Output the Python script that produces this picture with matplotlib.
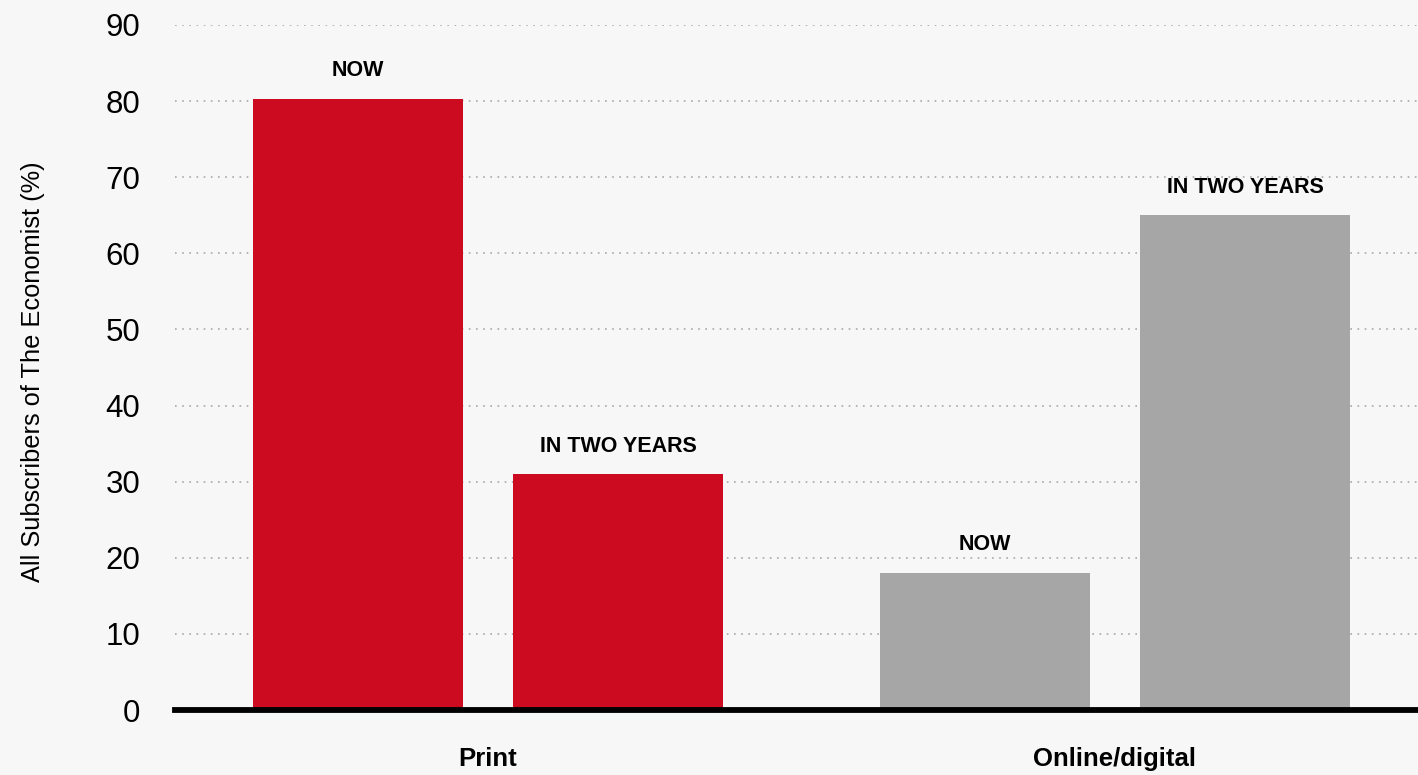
import numpy as np
import matplotlib
matplotlib.use('Agg')
import matplotlib.pyplot as plt

# --- data ---
groups = ['Print', 'Online/digital']
periods = ['NOW', 'IN TWO YEARS']
print_share = [80.3, 31.0]
online_share = [18.0, 65.0]
group_colors = ['#cc0a20', '#a6a6a6']
y_ticks = [0, 10, 20, 30, 40, 50, 60, 70, 80, 90]

font = 'Liberation Sans'

fig = plt.figure(figsize=(14.18, 7.75), dpi=100)
fig.patch.set_facecolor('#f7f7f7')
ax = fig.add_axes([175 / 1418, 65 / 775, 1 - 175 / 1418, 685 / 775])
ax.set_facecolor('none')

bar_w = 1.0
inner = 0.62
centers = np.array([0.0, 2.986])

for gi, (vals, col) in enumerate(zip([print_share, online_share], group_colors)):
    xs = centers[gi] + np.array([-inner, inner])
    ax.bar(xs, vals, width=bar_w, color=col, zorder=3)
    for x, v, lab in zip(xs, vals, periods):
        ax.text(x, v + 2.3, lab, ha='center', va='bottom', fontsize=15.5,
                fontweight='bold', family=font, color='black')
    ax.text(centers[gi], -6.4, groups[gi], ha='center', va='center',
            fontsize=18.5, fontweight='bold', family=font)

ax.set_xlim(-1.49, 4.43)
ax.set_ylim(0, 90)
ax.set_yticks(y_ticks)
ax.set_yticklabels([str(t) for t in y_ticks], family=font, fontsize=22.5)
ax.tick_params(axis='y', length=0, pad=25)
ax.set_xticks([])
for s in ax.spines.values():
    s.set_visible(False)

for t in y_ticks[1:]:
    ax.axhline(t, color='#a8a8a8', lw=1.2, ls=(0, (1, 3.3)), zorder=1)
ax.axhline(0, color='black', lw=4.2, zorder=4, clip_on=False)

fig.text(33 / 1418, 1 - 372 / 775, 'All Subscribers of The Economist (%)',
         rotation=90, ha='center', va='center', fontsize=18.3, family=font)

fig.savefig('out.png', dpi=100, facecolor=fig.get_facecolor())
